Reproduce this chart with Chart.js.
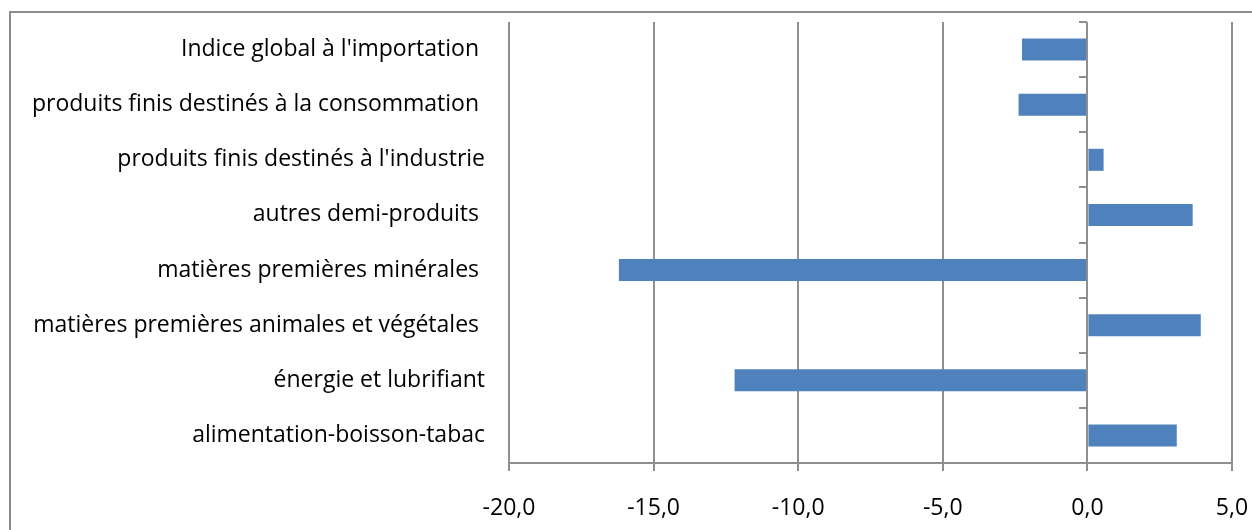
<!DOCTYPE html>
<html>
<head>
<meta charset="utf-8">
<script src="https://cdn.jsdelivr.net/npm/chart.js@4.4.0/dist/chart.umd.min.js"></script>
<style>
html,body{margin:0;padding:0;background:#fff;overflow:hidden;}
#wrap{position:relative;width:1252px;height:530px;}
#frame{position:absolute;left:9px;top:11px;width:1400px;height:800px;border:2px solid #8c8c8c;pointer-events:none;}
</style>
</head>
<body>
<div id="wrap">
<canvas id="c" width="1252" height="530"></canvas>
<div id="frame"></div>
</div>
<script>
const categories = [
  "Indice global à l'importation ",
  "produits finis destinés à la consommation ",
  "produits finis destinés à l'industrie",
  "autres demi-produits ",
  "matières premières minérales ",
  "matières premières animales et végétales ",
  "énergie et lubrifiant",
  "alimentation-boisson-tabac"
];
const variation = [-2.26, -2.38, 0.56, 3.64, -16.2, 3.92, -12.2, 3.09];
const xTickValues = [-20, -15, -10, -5, 0, 5];
const xTickLabels = ["-20,0", "-15,0", "-10,0", "-5,0", "0,0", "5,0"];

const gridGrey = '#8f8f8f';
const FONT = "'Open Sans', sans-serif";

const zeroAxis = {
  id: 'zeroAxis',
  afterDatasetsDraw(chart) {
    const ctx = chart.ctx, xs = chart.scales.x, ys = chart.scales.y;
    const x0 = Math.round(xs.getPixelForValue(0));
    ctx.save();
    ctx.strokeStyle = gridGrey;
    ctx.lineWidth = 2;
    ctx.beginPath();
    ctx.moveTo(x0, chart.chartArea.top);
    ctx.lineTo(x0, chart.chartArea.bottom);
    for (let i = 0; i <= categories.length; i++) {
      const y = Math.round(ys.getPixelForValue(i - 0.5));
      ctx.moveTo(x0 - 8, y);
      ctx.lineTo(x0, y);
    }
    ctx.stroke();
    ctx.restore();
  }
};

new Chart(document.getElementById('c'), {
  type: 'bar',
  data: {
    labels: categories,
    datasets: [{
      data: variation,
      backgroundColor: '#4f81bd',
      borderWidth: 0,
      categoryPercentage: 1,
      barPercentage: 0.4
    }]
  },
  options: {
    indexAxis: 'y',
    responsive: false,
    animation: false,
    layout: { padding: { top: 22, right: 20, left: 0, bottom: 0 } },
    plugins: { legend: { display: false }, tooltip: { enabled: false } },
    scales: {
      x: {
        min: -20, max: 5,
        afterBuildTicks(scale) { scale.ticks = xTickValues.map(v => ({ value: v })); },
        afterFit(scale) { scale.height = 67; scale.paddingLeft = 0; scale.paddingRight = 0; },
        grid: { color: gridGrey, lineWidth: 2, tickLength: 8, drawTicks: true },
        border: { display: true, color: gridGrey, width: 2 },
        ticks: {
          color: '#000',
          font: { family: FONT, size: 23 },
          padding: 24,
          maxRotation: 0,
          callback(v, i) { return xTickLabels[i]; }
        }
      },
      y: {
        afterFit(scale) { scale.width = 509; scale.paddingTop = 0; scale.paddingBottom = 0; },
        grid: { display: false, drawTicks: false },
        border: { display: false },
        ticks: {
          color: '#000',
          font: { family: FONT, size: 23 },
          padding: 24,
          autoSkip: false
        }
      }
    }
  },
  plugins: [zeroAxis]
});
</script>
</body>
</html>
